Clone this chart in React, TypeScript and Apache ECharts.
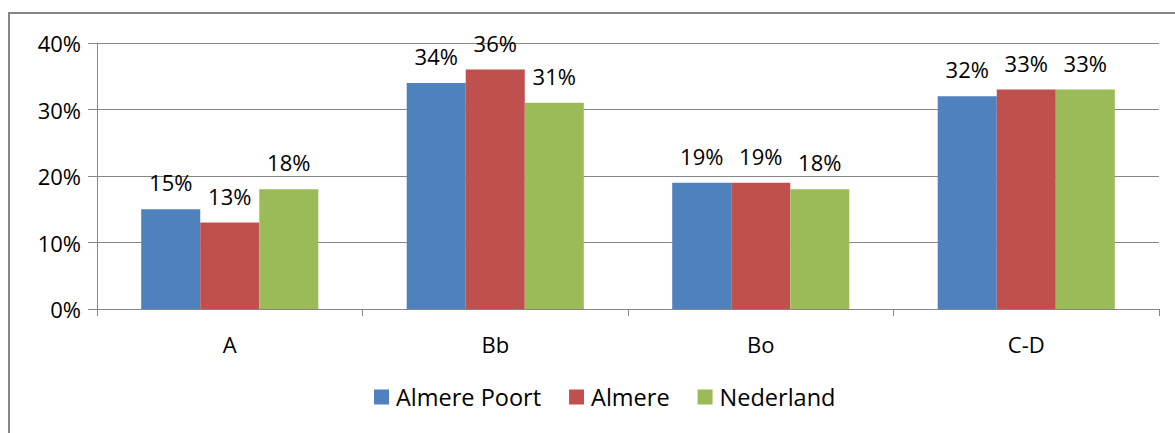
import React, { useEffect, useRef } from "react";
import * as echarts from "echarts";

const categories = ["A", "Bb", "Bo", "C-D"];
const almerePoort = [15, 34, 19, 32];
const almere = [13, 36, 19, 33];
const nederland = [18, 31, 18, 33];
const seriesNames = ["Almere Poort", "Almere", "Nederland"];
const colors = ["#4f81bd", "#c0504d", "#9bbb59"];

export default function App() {
  const ref = useRef<HTMLDivElement>(null);
  useEffect(() => {
    if (!ref.current) return;
    const chart = echarts.init(ref.current, undefined, { renderer: "svg" });
    const font = "'Open Sans', sans-serif";
    const mk = (name: string, data: number[], color: string) => ({
      name,
      type: "bar",
      data,
      barGap: "0%",
      barCategoryGap: "33.3%",
      itemStyle: { color },
      label: {
        show: true,
        position: "top",
        distance: 16,
        formatter: "{c}%",
        color: "#000",
        fontFamily: font,
        fontSize: 22,
      },
    });
    chart.setOption({
      animation: false,
      backgroundColor: "#fff",
      textStyle: { fontFamily: font },
      grid: { left: 97, right: 16, top: 43, bottom: 124 },
      legend: {
        bottom: 19,
        left: 369,
        itemWidth: 15,
        itemHeight: 15,
        itemGap: 28,
        icon: "rect",
        textStyle: { fontSize: 23.5, color: "#000", fontFamily: font, padding: [0, 0, 0, 2] },
        data: seriesNames,
      },
      xAxis: {
        type: "category",
        data: categories,
        axisLine: { lineStyle: { color: "#868686", width: 1 } },
        axisTick: { show: true, length: 7, lineStyle: { color: "#868686" } },
        axisLabel: { color: "#000", fontSize: 22, margin: 24, fontFamily: font },
      },
      yAxis: {
        type: "value",
        min: 0,
        max: 40,
        interval: 10,
        axisLine: { show: true, lineStyle: { color: "#868686", width: 1 } },
        axisTick: { show: true, length: 9, lineStyle: { color: "#868686" } },
        axisLabel: { color: "#000", fontSize: 22, margin: 16, formatter: "{value}%", fontFamily: font },
        splitLine: { lineStyle: { color: "#868686", width: 1 } },
      },
      graphic: [
        {
          type: "rect",
          shape: { x: 9, y: 13, width: 1300, height: 600 },
          style: { fill: "none", stroke: "#868686", lineWidth: 2 },
          silent: true,
          z: 100,
        },
      ],
      series: [
        mk(seriesNames[0], almerePoort, colors[0]),
        mk(seriesNames[1], almere, colors[1]),
        mk(seriesNames[2], nederland, colors[2]),
      ],
    });
    return () => chart.dispose();
  }, []);
  return (
    <div
      ref={ref}
      style={{ position: "fixed", left: 0, top: 0, width: 1175, height: 433 }}
    />
  );
}
